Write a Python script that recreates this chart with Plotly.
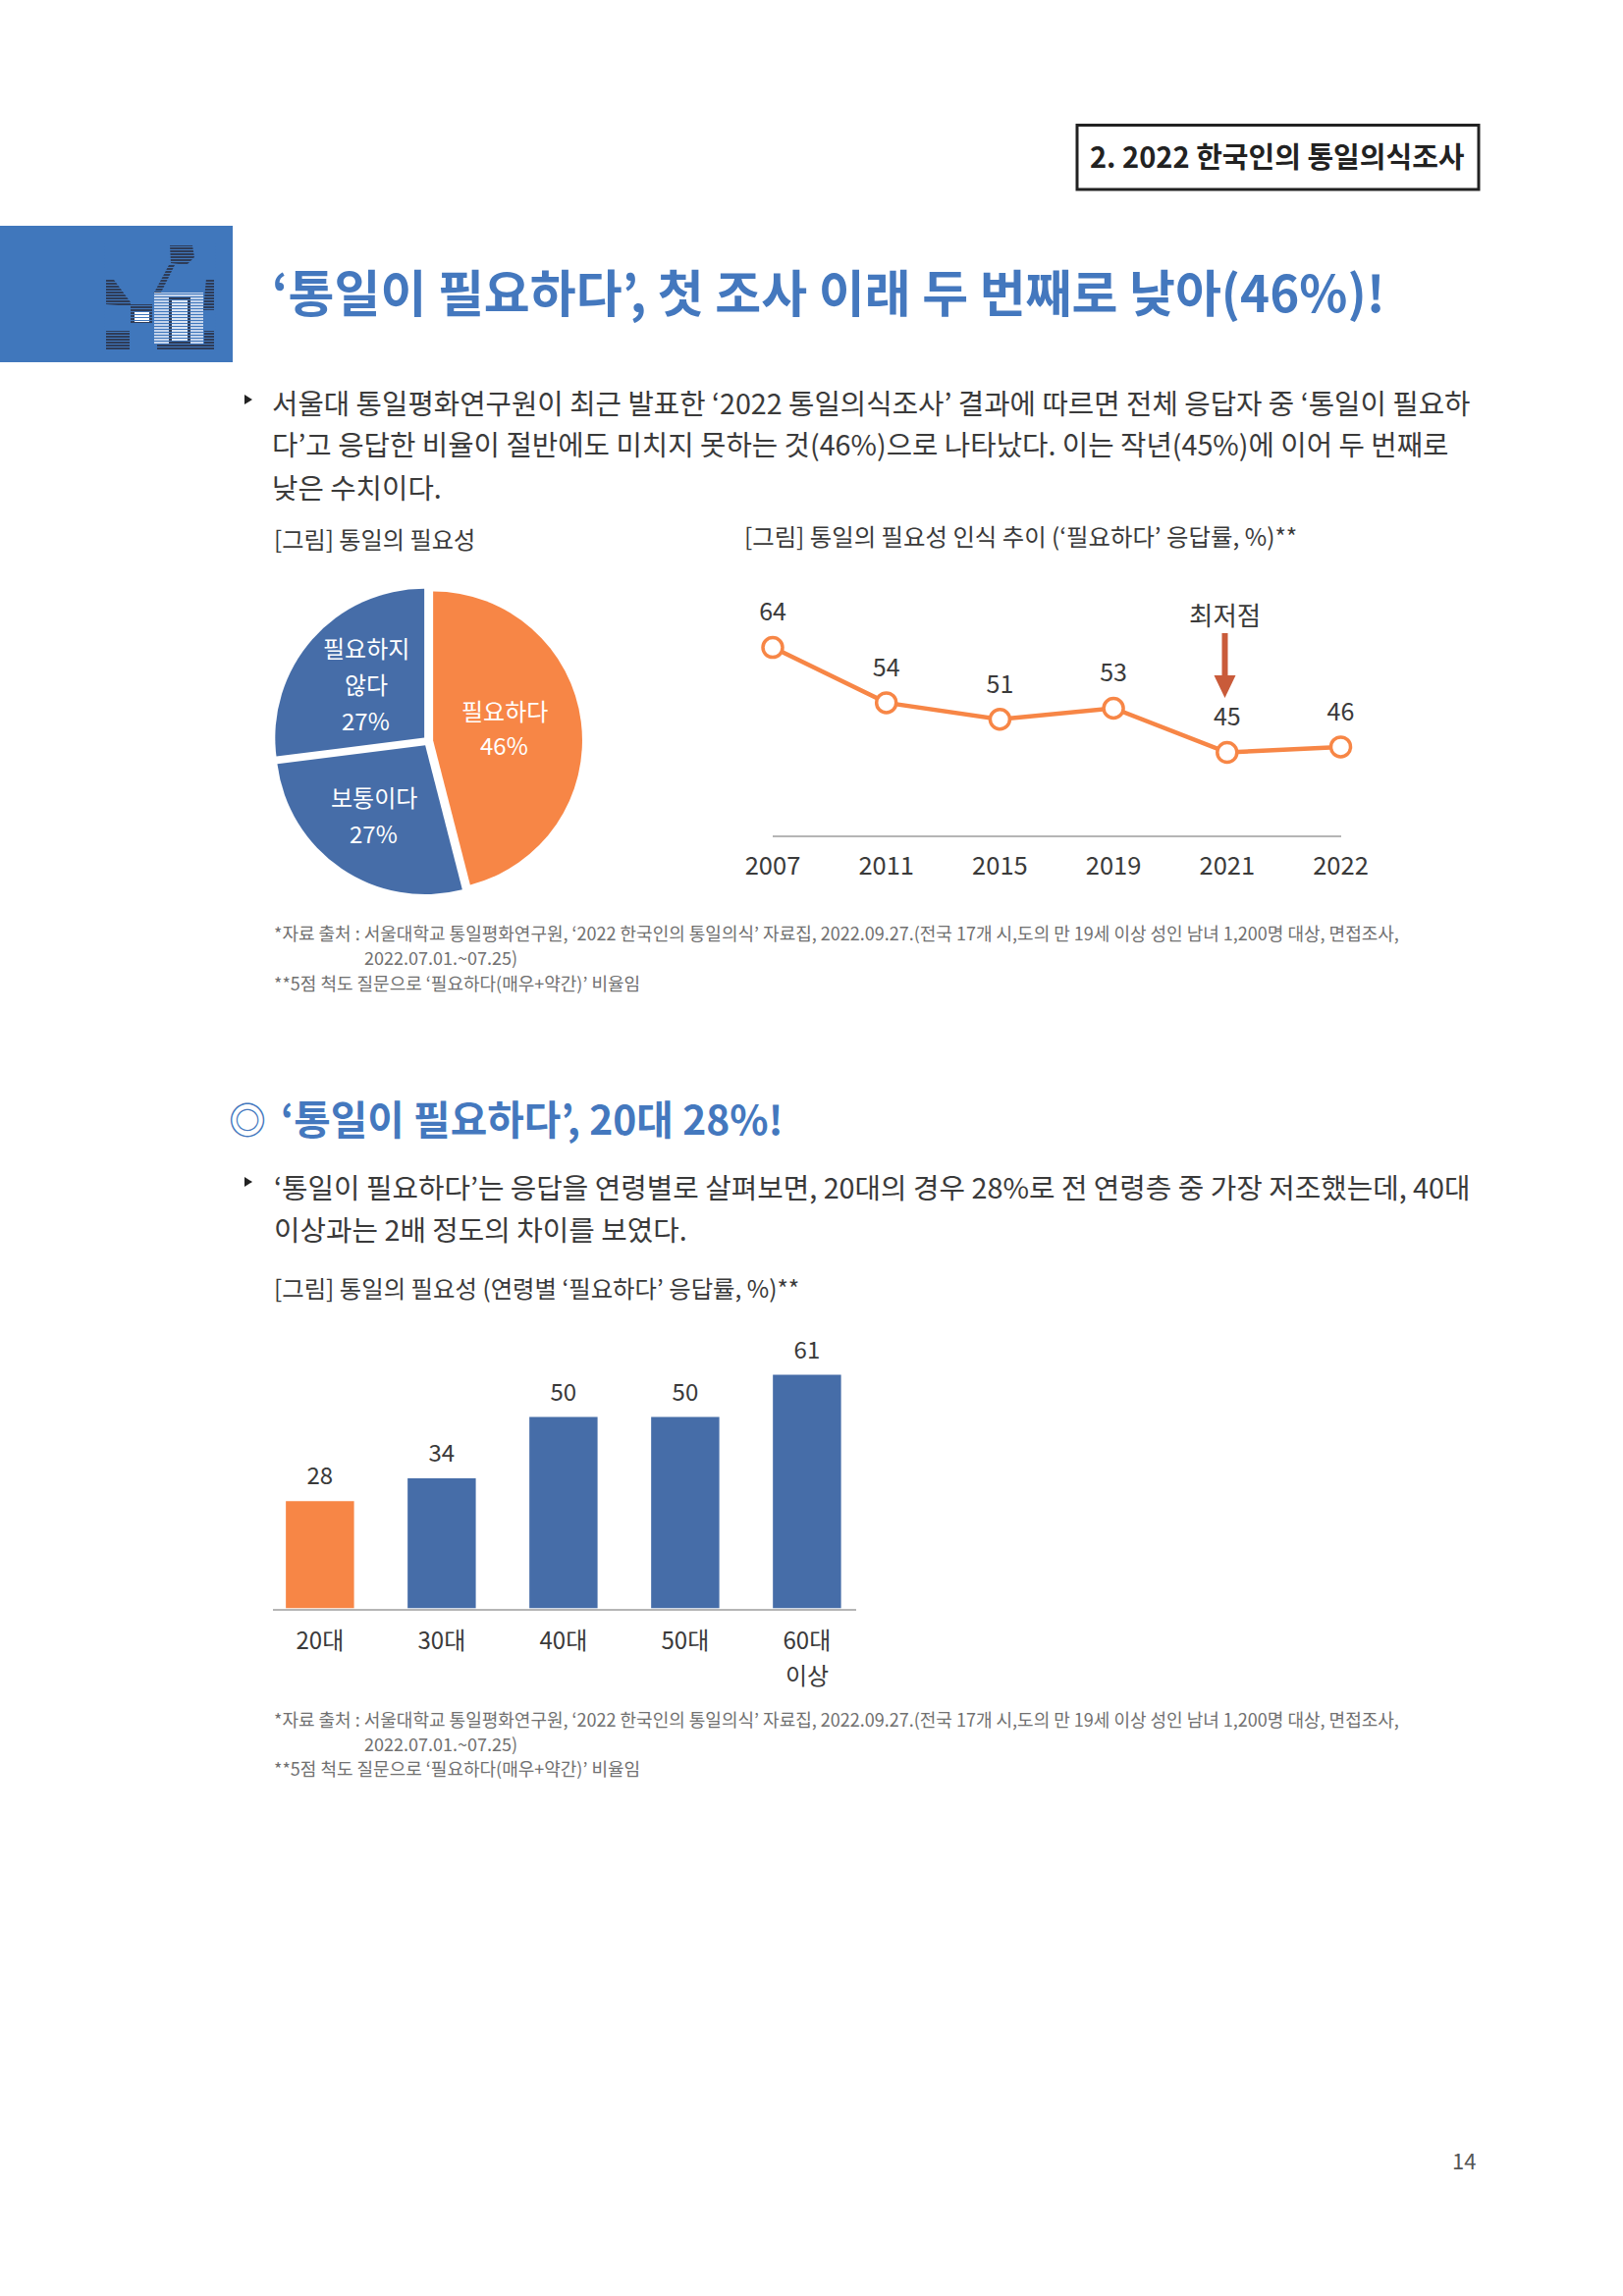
import plotly.graph_objects as go

W, H = 1653, 2339
FONT = "Noto Sans CJK KR"
INK = "#3A3A3A"
GREY = "#707070"
TITLE_BLUE = "#4478BE"
BLUE = "#466DA8"
ORANGE = "#F78646"

# ---------- data ----------
pie_labels = ["필요하다", "보통이다", "필요하지 않다"]
pie_values = [46, 27, 27]
pie_colors = [ORANGE, BLUE, BLUE]

trend_years = ["2007", "2011", "2015", "2019", "2021", "2022"]
trend_values = [64, 54, 51, 53, 45, 46]

age_groups = ["20대", "30대", "40대", "50대", "60대"]
age_values = [28, 34, 50, 50, 61]
age_colors = [ORANGE, BLUE, BLUE, BLUE, BLUE]

body1 = ["서울대 통일평화연구원이 최근 발표한 ‘2022 통일의식조사’ 결과에 따르면 전체 응답자 중 ‘통일이 필요하",
         "다’고 응답한 비율이 절반에도 미치지 못하는 것(46%)으로 나타났다. 이는 작년(45%)에 이어 두 번째로",
         "낮은 수치이다."]
body2 = ["‘통일이 필요하다’는 응답을 연령별로 살펴보면, 20대의 경우 28%로 전 연령층 중 가장 저조했는데, 40대",
         "이상과는 2배 정도의 차이를 보였다."]
note1 = "*자료 출처 : 서울대학교 통일평화연구원, ‘2022 한국인의 통일의식’ 자료집, 2022.09.27.(전국 17개 시,도의 만 19세 이상 성인 남녀 1,200명 대상, 면접조사,"
note2 = "2022.07.01.~07.25)"
note3 = "**5점 척도 질문으로 ‘필요하다(매우+약간)’ 비율임"

# ---------- pixel helpers ----------
def px(x): return x / W
def py(y): return 1 - y / H

annotations, shapes = [], []

def T(x, y, text, size, color=INK, bold=False, anchor="left"):
    annotations.append(dict(x=px(x), y=py(y), xref="paper", yref="paper", text=text, showarrow=False,
                            xanchor=anchor, yanchor="middle", align=anchor,
                            font=dict(family=FONT, size=size, color=color, weight=700 if bold else 400)))

def R(x0, y0, x1, y1, fill, line=None, lw=0, layer="below"):
    shapes.append(dict(type="rect", xref="paper", yref="paper", x0=px(x0), x1=px(x1), y0=py(y0), y1=py(y1),
                       fillcolor=fill, line=dict(color=line or fill, width=lw), layer=layer))

def P(points, fill):
    d = "M " + " L ".join(f"{px(a):.5f},{py(b):.5f}" for a, b in points) + " Z"
    shapes.append(dict(type="path", xref="paper", yref="paper", path=d, fillcolor=fill, line=dict(width=0), layer="above"))

# ---------- page furniture ----------
R(1097, 127.5, 1506, 193, "white", "#222222", 3)
T(1301, 158, "2. 2022 한국인의 통일의식조사", 29, "#222222", anchor="center", bold=True)

R(0, 230, 237, 369, "#4077BC")
# icon
DK = "#2E3C58"
P([(173, 250), (196, 250), (198, 262), (190, 270), (174, 268)], DK)
P([(172, 270), (178, 270), (163, 300), (156, 300)], DK)
P([(108, 285), (116, 285), (133, 308), (133, 312), (108, 310)], DK)
P([(210, 284), (218, 284), (218, 316), (207, 316)], DK)
P([(133, 310), (155, 310), (155, 330), (133, 330)], DK)
P([(108, 337), (132, 337), (132, 357), (108, 357)], DK)
P([(208, 337), (218, 337), (218, 357), (208, 357)], DK)
P([(160, 350), (214, 350), (214, 357), (160, 357)], DK)
P([(157, 298), (207, 298), (207, 350), (157, 350)], "#C4D4EC")
P([(172, 303), (194, 303), (194, 350), (172, 350)], DK)
P([(175, 306), (191, 306), (191, 347), (175, 347)], "#DCE6F4")
P([(137, 318), (152, 318), (152, 328), (137, 328)], "#FFFFFF")
for yy in range(248, 358, 3):
    P([(106, yy), (220, yy), (220, yy + 1), (106, yy + 1)], "#4077BC")

T(275, 296, "‘통일이 필요하다’, 첫 조사 이래 두 번째로 낮아(46%)!", 51, TITLE_BLUE, bold=True)

P([(249, 402), (257, 407), (249, 412)], "#222222")
for yy, line in zip([409, 451.5, 495.5], body1):
    T(275, yy, line, 28.7)

T(277, 548.5, "[그림] 통일의 필요성", 24.2)
T(755.5, 545, "[그림] 통일의 필요성 인식 추이 (‘필요하다’ 응답률, %)**", 24.4)

# pie labels
for x, y, t in [(372.5, 659, "필요하지"), (372.5, 696, "않다"), (372.5, 733, "27%"),
                (513.5, 723, "필요하다"), (513.5, 759, "46%"),
                (380.5, 811.5, "보통이다"), (380.5, 848.5, "27%")]:
    T(x, y, t, 24, "white", anchor="center")

# lowest-point callout
T(1247, 625, "최저점", 26.5, anchor="center")
R(1244.5, 645, 1250.5, 690, "#C95B3A", layer="above")
P([(1236.5, 688), (1258.5, 688), (1247.5, 711)], "#C95B3A")

for yy, xx, t in [(950, 277, note1), (975, 369, note2), (1000.5, 277, note3)]:
    T(xx, yy, t, 18, GREY)

# section 2
T(231, 1138.5, "◎", 38, TITLE_BLUE)
T(284, 1138, "‘통일이 필요하다’, 20대 28%!", 40.8, TITLE_BLUE, bold=True)
P([(249, 1199), (257, 1204), (249, 1209)], "#222222")
for yy, line in zip([1208, 1251], body2):
    T(277, yy, line, 28.8)
T(277, 1311.5, "[그림] 통일의 필요성 (연령별 ‘필요하다’ 응답률, %)**", 24.4)

T(821.5, 1705, "이상", 24, anchor="center")

for yy, xx, t in [(1750.5, 277, note1), (1775.5, 369, note2), (1800.5, 277, note3)]:
    T(xx, yy, t, 18, GREY)

T(1490.5, 2200, "14", 22, "#555555", anchor="center")

# ---------- figure ----------
fig = go.Figure()

fig.add_trace(go.Pie(labels=pie_labels, values=pie_values, sort=False, direction="clockwise", rotation=0,
                     pull=0.034, textinfo="none", hoverinfo="label+percent", showlegend=False,
                     marker=dict(colors=pie_colors, line=dict(width=0)),
                     domain=dict(x=[px(436 - 157), px(436 + 157)], y=[py(755 + 157), py(755 - 157)])))

fig.add_trace(go.Scatter(x=trend_years, y=trend_values, mode="lines+markers", xaxis="x", yaxis="y",
                         showlegend=False, cliponaxis=False, line=dict(color=ORANGE, width=4.5),
                         marker=dict(size=20, color="white", line=dict(color=ORANGE, width=3.5))))
# value labels, lifted by an invisible marker
fig.add_trace(go.Scatter(x=trend_years, y=trend_values, mode="markers+text", text=trend_values,
                         textposition="top center", xaxis="x", yaxis="y", showlegend=False, cliponaxis=False,
                         hoverinfo="skip", marker=dict(size=32, opacity=0),
                         textfont=dict(family=FONT, size=25, color=INK)))

fig.add_trace(go.Bar(x=age_groups, y=age_values, width=0.56,
                     marker=dict(color=age_colors, line=dict(width=0)), xaxis="x2", yaxis="y2", showlegend=False))
fig.add_trace(go.Scatter(x=age_groups, y=age_values, mode="markers+text", text=age_values,
                         textposition="top center", xaxis="x2", yaxis="y2", showlegend=False, cliponaxis=False,
                         hoverinfo="skip", marker=dict(size=16, opacity=0),
                         textfont=dict(family=FONT, size=24, color=INK)))

fig.update_layout(
    width=W, height=H, autosize=False, margin=dict(l=0, r=0, t=0, b=0, pad=0, autoexpand=False),
    paper_bgcolor="white", plot_bgcolor="rgba(0,0,0,0)", font=dict(family=FONT),
    annotations=annotations, shapes=shapes,
    xaxis=dict(domain=[px(787), px(1365.5)], range=[0, 5], type="category", anchor="y", showgrid=False,
               showline=True, linecolor="#B5B5B5", linewidth=1.5, ticks="outside", ticklen=8,
               tickcolor="rgba(0,0,0,0)", tickfont=dict(family=FONT, size=25.5, color=INK), zeroline=False,
               categoryorder="array", categoryarray=trend_years),
    yaxis=dict(domain=[py(851), py(851 - 45 * 5.63)], range=[30, 75], anchor="x", visible=False),
    xaxis2=dict(domain=[px(277.5), px(871.5)], range=[-0.39, 4.4], type="category", anchor="y2", showgrid=False,
                showline=True, linecolor="#B5B5B5", linewidth=1.5, ticks="outside", ticklen=10.5,
                tickcolor="rgba(0,0,0,0)", tickfont=dict(family=FONT, size=24, color=INK), zeroline=False),
    yaxis2=dict(domain=[py(1638.5), py(1638.5 - 70 * 3.9)], range=[0, 70], anchor="x2", visible=False),
)

fig.write_html("out.html", config={"displayModeBar": False}, post_script="document.body.style.margin='0';")
